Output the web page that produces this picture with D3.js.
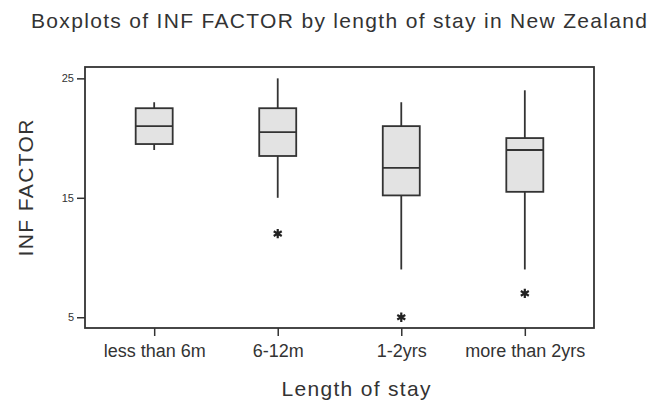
<!DOCTYPE html>
<html>
<head>
<meta charset="utf-8">
<script src="https://cdn.jsdelivr.net/npm/d3@7"></script>
<style>
  body { margin: 0; background: #fff; }
  text { font-family: "Liberation Sans", Arial, sans-serif; fill: #333; }
</style>
</head>
<body>
<div class="chart"></div>
<script>
// data
var categories = ["less than 6m", "6-12m", "1-2yrs", "more than 2yrs"];
var whiskerLow  = [19, 15, 9, 9];
var q1          = [19.5, 18.5, 15.2, 15.5];
var median      = [21, 20.5, 17.5, 19];
var q3          = [22.5, 22.5, 21, 20];
var whiskerHigh = [23, 25, 23, 24];
var outliers    = [[], [12], [5], [7]];
var yTicks      = [5, 15, 25];

var svg_width = 654, svg_height = 404;
var margins = { top: 67, bottom: 76, right: 60, left: 85 };
var width = svg_width - margins.left - margins.right;
var height = svg_height - margins.top - margins.bottom;

var data = categories.map(function(c, i){
  return { cat: c, lo: whiskerLow[i], q1: q1[i], med: median[i], q3: q3[i], hi: whiskerHigh[i], out: outliers[i] };
});

var svg = d3.select(".chart").append("svg")
  .attr("width", svg_width)
  .attr("height", svg_height);

var g = svg.append("g")
  .attr("transform", "translate(" + margins.left + "," + margins.top + ")");

var x = d3.scalePoint()
  .domain(categories)
  .range([0, width])
  .padding(0.56);

var y = d3.scaleLinear()
  .domain([4.1, 25.95])
  .range([height, 0]);

var ink = "#333";
var boxW = 37;

// frame
g.append("rect")
  .attr("width", width).attr("height", height)
  .attr("fill", "none").attr("stroke", ink).attr("stroke-width", 1.8);

// axes
var yAxis = d3.axisLeft(y).tickValues(yTicks).tickSize(8).tickPadding(3);
var xAxis = d3.axisBottom(x).tickSize(8).tickPadding(8);

var ya = g.append("g").call(yAxis);
ya.select(".domain").remove();
ya.selectAll("line").attr("stroke", ink).attr("stroke-width", 1.5);
ya.selectAll("text").style("font-size", "11px").attr("fill", ink);

var xa = g.append("g").attr("transform", "translate(0," + height + ")").call(xAxis);
xa.select(".domain").remove();
xa.selectAll("line").attr("stroke", ink).attr("stroke-width", 1.5);
xa.selectAll("text").style("font-size", "18px").attr("fill", ink);

// boxes
var box = g.selectAll(".box")
  .data(data)
  .enter().append("g")
  .attr("class", "box")
  .attr("transform", d => "translate(" + x(d.cat) + ",0)");

box.append("line")
  .attr("y1", d => y(d.hi)).attr("y2", d => y(d.q3))
  .attr("stroke", ink).attr("stroke-width", 1.8);
box.append("line")
  .attr("y1", d => y(d.q1)).attr("y2", d => y(d.lo))
  .attr("stroke", ink).attr("stroke-width", 1.8);

box.append("rect")
  .attr("x", -boxW / 2).attr("width", boxW)
  .attr("y", d => y(d.q3))
  .attr("height", d => y(d.q1) - y(d.q3))
  .attr("fill", "#e3e3e3")
  .attr("stroke", ink).attr("stroke-width", 1.8);

box.append("line")
  .attr("x1", -boxW / 2).attr("x2", boxW / 2)
  .attr("y1", d => y(d.med)).attr("y2", d => y(d.med))
  .attr("stroke", ink).attr("stroke-width", 1.8);

// outliers
var star = d3.symbol().type(d3.symbolAsterisk).size(60);
box.selectAll(".out")
  .data(d => d.out)
  .enter().append("path")
  .attr("d", star)
  .attr("transform", v => "translate(0," + y(v) + ")")
  .attr("fill", "none").attr("stroke", "#222").attr("stroke-width", 2.2);

// titles
svg.append("text")
  .attr("x", 31).attr("y", 28)
  .attr("textLength", 616).attr("lengthAdjust", "spacing")
  .style("font-size", "21px")
  .text("Boxplots of INF FACTOR by length of stay in New Zealand");

svg.append("text")
  .attr("x", 356).attr("y", 396)
  .attr("text-anchor", "middle")
  .attr("textLength", 149).attr("lengthAdjust", "spacing")
  .style("font-size", "21px")
  .text("Length of stay");

svg.append("text")
  .attr("transform", "translate(33," + 188 + ") rotate(-90)")
  .attr("text-anchor", "middle")
  .attr("textLength", 137).attr("lengthAdjust", "spacing")
  .style("font-size", "21px")
  .text("INF FACTOR");
</script>
</body>
</html>
